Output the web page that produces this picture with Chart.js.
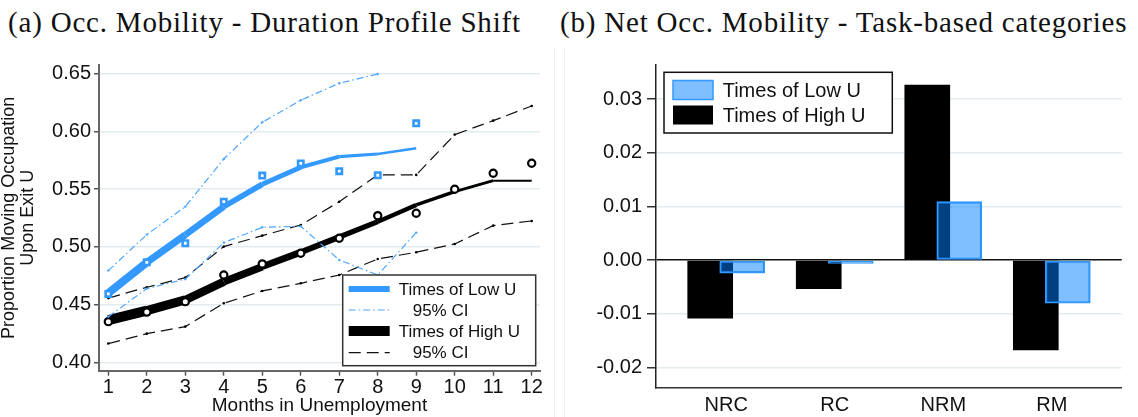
<!DOCTYPE html>
<html>
<head>
<meta charset="utf-8">
<script src="https://cdn.jsdelivr.net/npm/chart.js@4.4.0/dist/chart.umd.min.js"></script>
<style>
  body { margin: 0; background: #fff; }
  #wrap { position: relative; width: 1138px; height: 417px; overflow: hidden; }
  canvas { position: absolute; top: 0; }
  .ttl { position: absolute; top: 8px; font-family: "Liberation Serif", serif; font-size: 29px;
         line-height: 29px; letter-spacing: 0.8px; color: #111; white-space: nowrap; }
  .sep { position: absolute; top: 48px; width: 1px; height: 369px; background: #eef0f0; }
</style>
</head>
<body>
<div id="wrap">
  <div class="ttl" style="left:8px">(a) Occ. Mobility - Duration Profile Shift</div>
  <div class="ttl" style="left:560px">(b) Net Occ. Mobility - Task-based categories</div>
  <div class="sep" style="left:554px"></div>
  <div class="sep" style="left:564px"></div>
  <canvas id="left" width="557" height="417" style="left:0"></canvas>
  <canvas id="right" width="581" height="417" style="left:557px"></canvas>
</div>
<script>
// ---- panel (a) data ----
const months = [1, 2, 3, 4, 5, 6, 7, 8, 9, 10, 11, 12];
const lowPts = [0.4592, 0.4866, 0.5031, 0.5391, 0.5617, 0.5722, 0.5655, 0.5620, 0.6070, null, null, null];
const lowFit = [0.4598, 0.4865, 0.5103, 0.5348, 0.5542, 0.5689, 0.5781, 0.5804, 0.5854, null, null, null];
const lowHi  = [0.4794, 0.5106, 0.5348, 0.5761, 0.6079, 0.6270, 0.6417, 0.6497, null, null, null, null];
const lowLo  = [0.4395, 0.4638, 0.4720, 0.5036, 0.5169, 0.5178, 0.4886, 0.4756, 0.5123, null, null, null];
const highPts = [0.4352, 0.4435, 0.4525, 0.4756, 0.4852, 0.4944, 0.5074, 0.5270, 0.5291, 0.5499, 0.5637, 0.5724];
const highFit = [0.4366, 0.4447, 0.4540, 0.4698, 0.4828, 0.4953, 0.5085, 0.5218, 0.5363, 0.5478, 0.5573, 0.5573];
const highHi  = [0.4556, 0.4650, 0.4733, 0.5002, 0.5097, 0.5189, 0.5391, 0.5623, 0.5623, 0.5972, 0.6093, 0.6220];
const highLo  = [0.4162, 0.4248, 0.4309, 0.4511, 0.4618, 0.4684, 0.4756, 0.4895, 0.4953, 0.5025, 0.5184, 0.5224];
const yTicksA = [0.40, 0.45, 0.50, 0.55, 0.60, 0.65];

// ---- panel (b) data ----
const cats = ['NRC', 'RC', 'NRM', 'RM'];
const netLowU  = [-0.0024, -0.0006, 0.0109, -0.0080];
const netHighU = [-0.0108, -0.0053, 0.0326, -0.0167];
const yTicksB = [-0.02, -0.01, 0.00, 0.01, 0.02, 0.03];

const BLUE = '#3399ff';
const BLUE_CI = '#4da6ff';
const GRID = '#e4ebef';
const SANS = '"Liberation Sans", Arial, sans-serif';

const pairs = arr => months.map((m, i) => ({ x: m, y: arr[i] }));

// legend drawn in a box inside the plot, like the Stata original
const boxLegend = {
  id: 'boxLegend',
  afterDraw(chart, args, o) {
    const ctx = chart.ctx, ca = chart.chartArea;
    const x = ca.left + o.dx, y = ca.top + o.dy;
    ctx.save();
    ctx.fillStyle = '#fff';
    ctx.fillRect(x, y, o.w, o.h);
    ctx.strokeStyle = o.border;
    ctx.lineWidth = 1.5;
    ctx.strokeRect(x, y, o.w, o.h);
    ctx.font = o.font;
    ctx.textBaseline = 'middle';
    o.items.forEach(it => {
      const ry = y + it.ry;
      it.sample(ctx, x, ry);
      ctx.fillStyle = '#111';
      ctx.fillText(it.text, x + it.tx, ry + 1);
    });
    ctx.restore();
  }
};

function lineSample(color, width, dash) {
  return (ctx, x, y) => {
    ctx.beginPath();
    ctx.strokeStyle = color;
    ctx.lineWidth = width;
    ctx.setLineDash(dash);
    ctx.moveTo(x + 6, y);
    ctx.lineTo(x + 47, y);
    ctx.stroke();
    ctx.setLineDash([]);
  };
}
function boxSample(fill, border) {
  return (ctx, x, y) => {
    ctx.fillStyle = fill;
    ctx.fillRect(x + 9, y - 9.5, 40, 19);
    if (border) {
      ctx.strokeStyle = border;
      ctx.lineWidth = 1.5;
      ctx.strokeRect(x + 9, y - 9.5, 40, 19);
    }
  };
}

new Chart(document.getElementById('left'), {
  type: 'line',
  data: {
    datasets: [
      { label: 'Times of Low U', data: pairs(lowPts), showLine: false, pointStyle: 'rect',
        pointRadius: 3.8, pointBorderWidth: 2.6, pointBorderColor: BLUE, pointBackgroundColor: '#fff' },
      { label: 'Times of Low U fit', data: pairs(lowFit), borderColor: BLUE, pointRadius: 0,
        borderCapStyle: 'butt',
        segment: { borderWidth: c => Math.max(1.8, 8 - c.p0DataIndex * 0.8) } },
      { label: '95% CI', data: pairs(lowHi), borderColor: BLUE_CI, borderWidth: 1.2, borderDash: [7, 3, 1.5, 3],
        pointRadius: 1.2, pointBackgroundColor: BLUE_CI, pointBorderWidth: 0 },
      { label: '95% CI low', data: pairs(lowLo), borderColor: BLUE_CI, borderWidth: 1.2, borderDash: [7, 3, 1.5, 3],
        pointRadius: 1.2, pointBackgroundColor: BLUE_CI, pointBorderWidth: 0 },
      { label: 'Times of High U', data: pairs(highPts), showLine: false, pointStyle: 'circle',
        pointRadius: 3.6, pointBorderWidth: 2.2, pointBorderColor: '#000', pointBackgroundColor: '#fff' },
      { label: 'Times of High U fit', data: pairs(highFit), borderColor: '#000', pointRadius: 0,
        borderCapStyle: 'butt',
        segment: { borderWidth: c => Math.max(1.6, 10 - c.p0DataIndex * 0.8) } },
      { label: '95% CI hi', data: pairs(highHi), borderColor: '#111', borderWidth: 1.2, borderDash: [12, 6],
        pointRadius: 1.3, pointBackgroundColor: '#000', pointBorderWidth: 0 },
      { label: '95% CI lo', data: pairs(highLo), borderColor: '#111', borderWidth: 1.2, borderDash: [12, 6],
        pointRadius: 1.3, pointBackgroundColor: '#000', pointBorderWidth: 0 }
    ]
  },
  options: {
    responsive: false,
    animation: false,
    layout: { padding: { top: 65, right: 17, left: 0, bottom: 0 } },
    elements: { line: { tension: 0 } },
    plugins: {
      legend: { display: false },
      tooltip: { enabled: false },
      boxLegend: {
        dx: 243.7, dy: 210, w: 193, h: 90.7, border: '#333', font: '17px ' + SANS,
        items: [
          { text: 'Times of Low U', tx: 56, ry: 14, sample: lineSample(BLUE, 6, []) },
          { text: '95% CI', tx: 70, ry: 35, sample: lineSample(BLUE_CI, 1.2, [7, 3, 1.5, 3]) },
          { text: 'Times of High U', tx: 56, ry: 56, sample: lineSample('#000', 10, []) },
          { text: '95% CI', tx: 70, ry: 77.7, sample: lineSample('#111', 1.2, [12, 6]) }
        ]
      }
    },
    scales: {
      x: {
        type: 'linear', min: 0.758, max: 12.216,
        afterBuildTicks: s => { s.ticks = months.map(v => ({ value: v })); },
        afterFit: s => { s.height = 46.3; },
        grid: { drawOnChartArea: false, tickLength: 5, tickColor: '#555', tickWidth: 1.5 },
        border: { color: '#666', width: 2 },
        ticks: { color: '#111', font: { family: SANS, size: 20 }, padding: 0, maxRotation: 0 },
        title: { display: true, text: 'Months in Unemployment', color: '#111',
                 font: { family: SANS, size: 19 }, padding: { top: 0, bottom: 0 } }
      },
      y: {
        min: 0.3927, max: 0.6575,
        afterBuildTicks: s => { s.ticks = yTicksA.map(v => ({ value: v })); },
        afterFit: s => { s.width = 99; },
        grid: { color: GRID, lineWidth: 1.5, tickLength: 5, tickColor: '#555', tickWidth: 1.5 },
        border: { color: '#666', width: 2 },
        ticks: { color: '#111', font: { family: SANS, size: 20 }, padding: 3,
                 callback: v => v.toFixed(2) },
        title: { display: true, text: ['Proportion Moving Occupation', 'Upon Exit U'], color: '#111',
                 font: { family: SANS, size: 18, lineHeight: 1.06 }, padding: { top: -1 } }
      }
    }
  },
  plugins: [boxLegend]
});

// bars of the two periods overlap, offset either side of the category centre
const shift = 0.1475;
new Chart(document.getElementById('right'), {
  type: 'bar',
  data: {
    datasets: [
      { label: 'Times of Low U', data: netLowU.map((v, i) => ({ x: i + 1 + shift, y: v })),
        backgroundColor: 'rgba(0,128,255,0.5)', borderColor: BLUE, borderWidth: 1.5, borderSkipped: false },
      { label: 'Times of High U', data: netHighU.map((v, i) => ({ x: i + 1 - shift, y: v })),
        backgroundColor: '#000', borderWidth: 0 }
    ]
  },
  options: {
    responsive: false,
    animation: false,
    layout: { padding: { top: 65, right: 16.3, left: 0, bottom: 0 } },
    datasets: { bar: { grouped: false, barThickness: 45 } },
    plugins: {
      legend: { display: false },
      tooltip: { enabled: false },
      boxLegend: {
        dx: 8, dy: 7.3, w: 228.3, h: 60.7, border: '#111', font: '20px ' + SANS,
        items: [
          { text: 'Times of Low U', tx: 58.7, ry: 17.7, sample: boxSample('rgb(128,191,255)', BLUE) },
          { text: 'Times of High U', tx: 58.7, ry: 42.7, sample: boxSample('#000', null) }
        ]
      }
    },
    scales: {
      x: {
        type: 'linear', min: 0.353, max: 4.644, offset: false,
        afterBuildTicks: s => { s.ticks = cats.map((c, i) => ({ value: i + 1 })); },
        afterFit: s => { s.height = 29; },
        grid: { drawOnChartArea: false, drawTicks: false },
        border: { color: '#333', width: 1.5 },
        ticks: { color: '#111', font: { family: SANS, size: 20 }, padding: 5, maxRotation: 0,
                 callback: v => cats[v - 1] }
      },
      y: {
        min: -0.02378, max: 0.03633,
        afterBuildTicks: s => { s.ticks = yTicksB.map(v => ({ value: v })); },
        afterFit: s => { s.width = 99; },
        grid: { color: c => (c.tick && c.tick.value === 0 ? '#111' : GRID),
                lineWidth: 1.5, tickLength: 9, tickColor: '#333', tickWidth: 1.5 },
        border: { color: '#222', width: 1.5 },
        ticks: { color: '#111', font: { family: SANS, size: 20 }, padding: 5,
                 callback: v => v.toFixed(2) }
      }
    }
  },
  plugins: [boxLegend]
});
</script>
</body>
</html>
